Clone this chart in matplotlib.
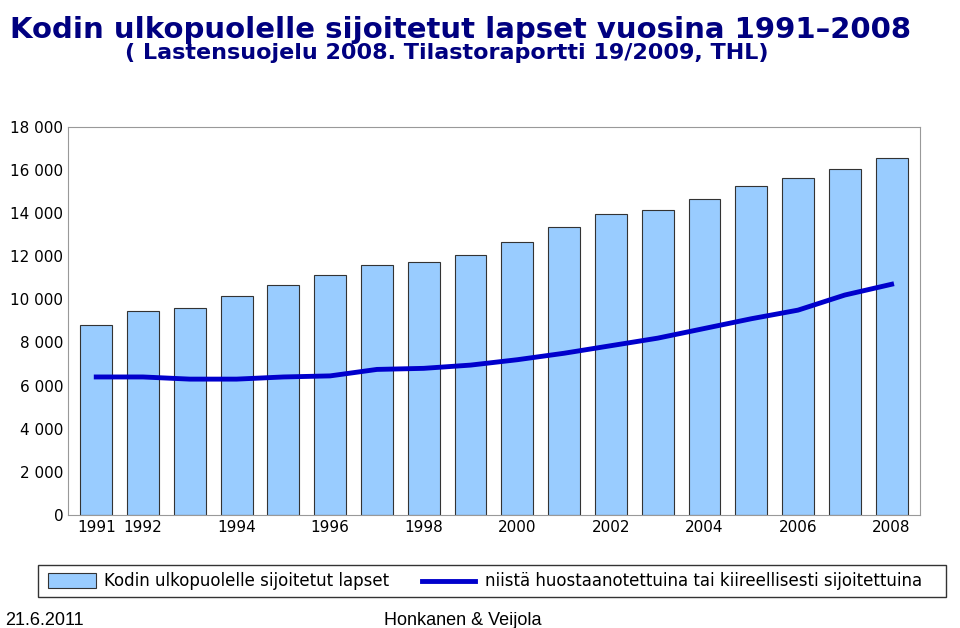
import matplotlib
matplotlib.use('Agg')
import matplotlib.pyplot as plt
from matplotlib.patches import Rectangle

years = list(range(1991, 2009))
placed = [8800, 9450, 9600, 10150, 10650, 11150, 11600, 11750, 12050,
          12650, 13350, 13950, 14150, 14650, 15250, 15650, 16050, 16550]
custody = [6400, 6400, 6300, 6300, 6400, 6450, 6750, 6800, 6950,
           7200, 7500, 7850, 8200, 8650, 9100, 9500, 10200, 10700]
tick_years = [1991, 1992, 1994, 1996, 1998, 2000, 2002, 2004, 2006, 2008]

fig = plt.figure(figsize=(9.6, 6.28), dpi=100)
ax = fig.add_axes([0.071, 0.18, 0.887, 0.618])

ax.bar(years, placed, width=0.68, color='#99CCFF', edgecolor='#333333', linewidth=0.8)
ax.plot(years, custody, color='#0000CC', linewidth=3.5)

ax.set_xlim(1990.4, 2008.6)
ax.set_ylim(0, 18000)
ax.set_yticks(range(0, 18001, 2000))
ax.set_yticklabels([f'{v:,}'.replace(',', ' ') for v in range(0, 18001, 2000)], fontsize=11)
ax.set_xticks(tick_years)
ax.set_xticklabels([str(y) for y in tick_years], fontsize=11)
ax.tick_params(length=0)
for s in ax.spines.values():
    s.set_color('#999999')

fig.text(0.01, 0.975, 'Kodin ulkopuolelle sijoitetut lapset vuosina 1991\u20132008',
         fontsize=21, fontweight='bold', color='#000080', va='top')
fig.text(0.13, 0.932, '( Lastensuojelu 2008. Tilastoraportti 19/2009, THL)',
         fontsize=16, fontweight='bold', color='#000080', va='top')

# legend box
fig.patches.append(Rectangle((0.04, 0.05), 0.945, 0.05, transform=fig.transFigure,
                             facecolor='white', edgecolor='#333333', linewidth=1))
fig.patches.append(Rectangle((0.05, 0.063), 0.05, 0.024, transform=fig.transFigure,
                             facecolor='#99CCFF', edgecolor='#333333', linewidth=0.8))
fig.text(0.108, 0.075, 'Kodin ulkopuolelle sijoitetut lapset', fontsize=12, va='center')
fig.add_artist(plt.Line2D([0.44, 0.495], [0.075, 0.075], color='#0000CC',
                          linewidth=3.5, transform=fig.transFigure))
fig.text(0.505, 0.075, 'niistä huostaanotettuina tai kiireellisesti sijoitettuina',
         fontsize=12, va='center')

fig.text(0.005, 0.005, '21.6.2011', fontsize=13, family='Liberation Sans')
fig.text(0.4, 0.005, 'Honkanen & Veijola', fontsize=13, family='Liberation Sans')

fig.savefig('out.png', dpi=100)
